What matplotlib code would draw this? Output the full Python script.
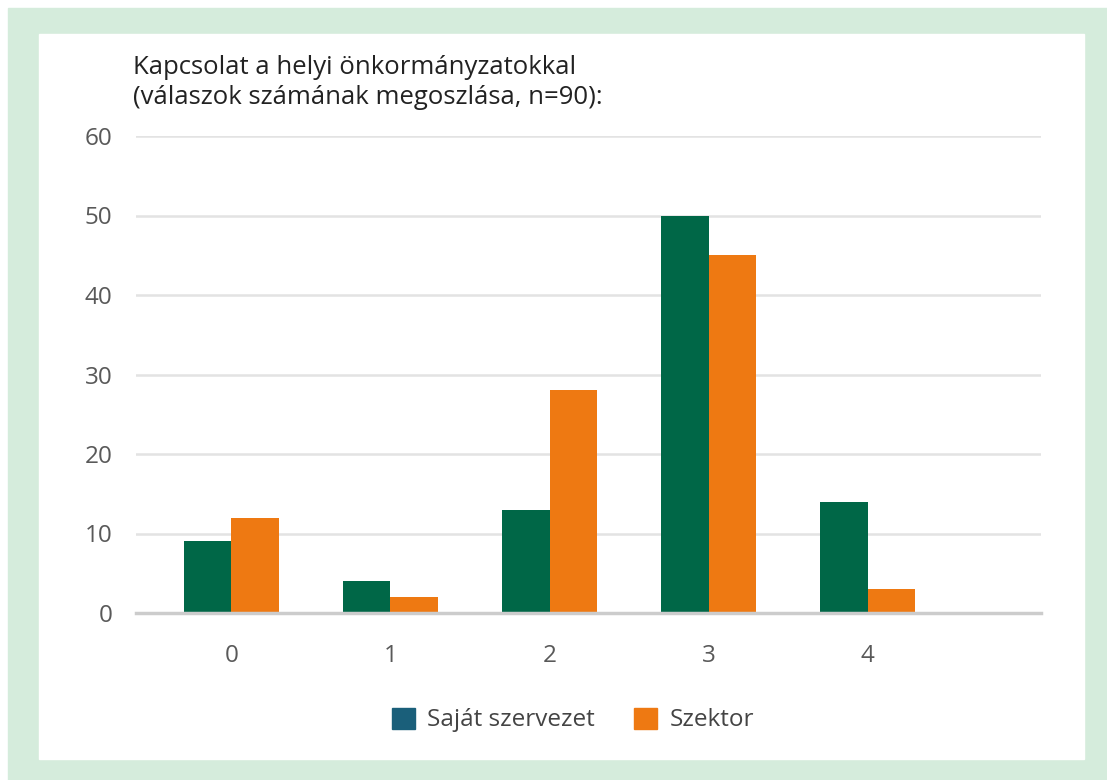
import matplotlib.pyplot as plt
import matplotlib.patches as mpatches
import numpy as np

plt.rcParams['font.family'] = ['Open Sans', 'DejaVu Sans']

categories = ['0', '1', '2', '3', '4']
sajat = [9, 4, 13, 50, 14]
szektor = [12, 2, 28, 45, 3]
y_ticks = [0, 10, 20, 30, 40, 50, 60]

green = '#006747'
orange = '#ee7912'
legend_blue = '#1a5f7a'
text_col = '#595959'

W, H = 1107, 780
fig = plt.figure(figsize=(W / 100, H / 100), dpi=100)

# light green frame with white panel inside
fig.patches.append(mpatches.Rectangle((8 / W, 0), 1 - 8 / W, 1 - 8 / H,
                                      transform=fig.transFigure, color='#d5ecdc', zorder=-2))
fig.patches.append(mpatches.Rectangle((39 / W, 1 - 759 / H), (1084 - 39) / W, (759 - 34) / H,
                                      transform=fig.transFigure, color='white', zorder=-1))

ax = fig.add_axes([136 / W, 1 - 613 / H, (1041 - 136) / W, (613 - 136) / H])
x = np.arange(len(categories))
w = 0.3
ax.bar(x - w / 2, sajat, w, color=green, zorder=3)
ax.bar(x + w / 2, szektor, w, color=orange, zorder=3)

ax.set_xlim(-0.6, 5.09)
ax.set_ylim(0, 60)
ax.set_yticks(y_ticks)
ax.set_xticks(x)
ax.set_xticklabels(categories)
ax.tick_params(length=0, labelsize=17.5, colors=text_col)
ax.tick_params(axis='y', pad=17)
ax.tick_params(axis='x', pad=22)
ax.grid(axis='y', color='#e3e3e3', linewidth=1.8, zorder=0)
ax.set_axisbelow(True)
for s in ['top', 'right', 'left']:
    ax.spines[s].set_visible(False)
ax.spines['bottom'].set_color('#cccccc')
ax.spines['bottom'].set_linewidth(2.5)
ax.spines['bottom'].set_zorder(4)
ax.set_facecolor('none')

fig.text(133 / W, 1 - 67 / H, 'Kapcsolat a helyi önkormányzatokkal', fontsize=18.5,
         color='#222222', va='center')
fig.text(133 / W, 1 - 98 / H, '(válaszok számának megoszlása, n=90):', fontsize=18.5,
         color='#222222', va='center')

handles = [mpatches.Patch(color=legend_blue, label='Saját szervezet'),
           mpatches.Patch(color=orange, label='Szektor')]
leg = fig.legend(handles=handles, loc='center', bbox_to_anchor=(573 / W, 1 - 720 / H),
                 ncol=2, frameon=False, fontsize=17.5, handlelength=0.95, handleheight=0.95,
                 columnspacing=1.6, handletextpad=0.5)
for t in leg.get_texts():
    t.set_color('#444444')

fig.savefig('out.png', dpi=100)
